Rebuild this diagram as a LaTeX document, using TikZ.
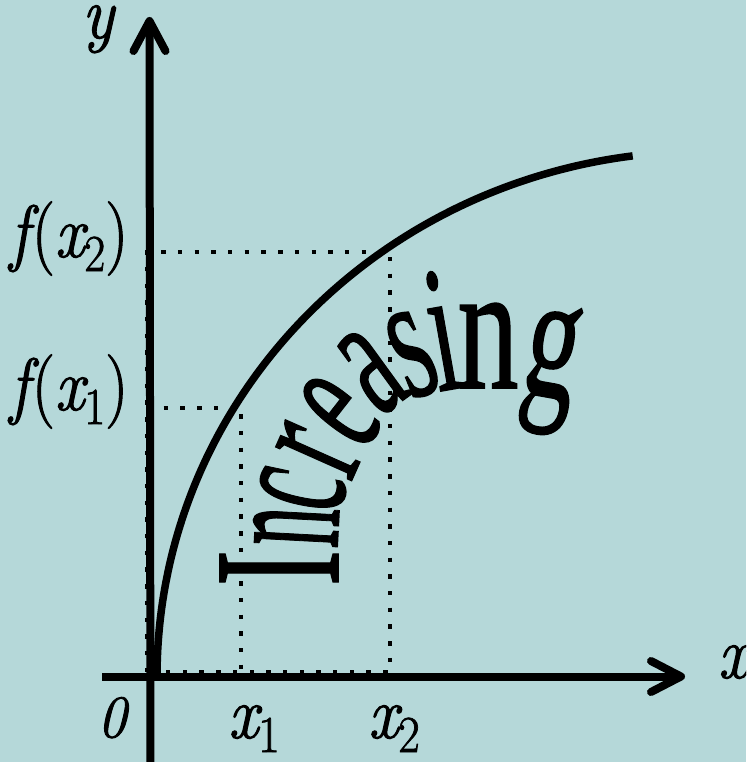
\RequirePackage{fix-cm}
\documentclass[tikz,border=0pt]{standalone}
\usepackage{fontspec}
\usepackage{graphicx}
\usetikzlibrary{calc}
\newfontfamily\incfont[FakeBold=1]{Liberation Serif}
\newfontfamily\lblfont[FakeBold=1.5]{Latin Modern Roman}
\newcommand\lsub[1]{\raisebox{-0.19em}{\fontsize{52}{52}\selectfont #1}}
\definecolor{bgteal}{HTML}{B5D8D9}
\begin{document}
\begin{tikzpicture}[x=1pt,y=-1pt,
  axisline/.style={line width=8pt},
  tipline/.style={line width=8pt, line cap=round, line join=round},
  dotline/.style={line width=4.4pt, dash pattern=on 4.4pt off 12.3pt},
  curveline/.style={line width=7.5pt},
  mlabel/.style={inner sep=0pt, anchor=base, font=\lblfont\fontsize{74}{78}\selectfont},
  letter/.style={inner sep=0pt, anchor=base, font=\incfont\fontsize{180}{180}\selectfont}]
\fill[bgteal] (0,0) rectangle (746,762);
\useasboundingbox (0,0) rectangle (746,762);
\clip (0,0) rectangle (746,762);

% key coordinates
\coordinate (O) at (157,676.5);
\coordinate (ybot) at (150.5,775);
\coordinate (ytip) at (149.5,21);
\coordinate (xleft) at (102,676.5);
\coordinate (xtip) at (681,676.5);
\coordinate (P1) at (241,408);
\coordinate (P2) at (390,252);
\coordinate (Q1) at (147,408);
\coordinate (Q2) at (147,252);
\coordinate (R1) at (241,672);
\coordinate (R2) at (390,672);
\coordinate (D0) at (147,672);

% dotted guides
\draw[dotline] (D0) -- (Q2) -- (P2) -- (R2) -- (D0);
\draw[dotline] (Q1) -- (P1) -- (R1);

% axes
\draw[axisline] (ybot) -- (ytip);
\draw[tipline] ($(ytip)+(-16,30)$) -- (ytip) -- ($(ytip)+(16,30)$);
\draw[axisline] (xleft) -- (xtip);
\draw[tipline] ($(xtip)+(-30,-15.5)$) -- (xtip) -- ($(xtip)+(-30,15.5)$);

% curve: quarter of an ellipse starting at the origin
\draw[curveline] plot[domain=0:82.6, samples=90, smooth]
  ({703-546*cos(\x)}, {676.5-525*sin(\x)});

% axis labels
\node[mlabel] (ly) at (98,38) {\scalebox{0.9}[1]{\itshape y}};
\node[mlabel] (lx) at (733,678) {\scalebox{0.9}[1]{\itshape x}};
\node[mlabel] (lf2) at (69,257) {\scalebox{0.88}[1]{{\itshape f\kern3pt}({\itshape x}\lsub{2})}};
\node[mlabel] (lf1) at (69,410) {\scalebox{0.88}[1]{{\itshape f\kern3pt}({\itshape x}\lsub{1})}};
\node[mlabel, font=\lblfont\fontsize{60}{64}\selectfont] (l0) at (112,737) {\scalebox{0.95}[1]{\itshape 0}};
\node[mlabel] (lx1) at (254,738) {\scalebox{0.9}[1]{{\itshape x}\lsub{1}}};
\node[mlabel] (lx2) at (394,738) {\scalebox{0.9}[1]{{\itshape x}\lsub{2}}};

% warped word
\node[letter, rotate=90] (c1) at (338,568) {\scalebox{0.6}[1]{I}};
\node[letter, rotate=87] (c2) at (338,529) {\scalebox{0.44}[1]{n}};
\node[letter, rotate=78] (c3) at (343,498) {\scalebox{0.47}[1]{c}};
\node[letter, rotate=66] (c4) at (357,468) {\scalebox{0.53}[1]{r}};
\node[letter, rotate=52] (c5) at (373,437) {\scalebox{0.52}[1]{e}};
\node[letter, rotate=36] (c6) at (396,405) {\scalebox{0.53}[1]{a}};
\node[letter, rotate=22] (c7) at (428,393) {\scalebox{0.55}[1]{s}};
\node[letter, rotate=10] (c8) at (452,389) {\scalebox{0.55}[1]{i}};
\node[letter, rotate=0] (c9) at (488,388) {\scalebox{0.68}[1]{n}};
\node[letter, rotate=-10] (c10) at (545,396) {\scalebox{0.6}[1]{g}};
\end{tikzpicture}
\end{document}
